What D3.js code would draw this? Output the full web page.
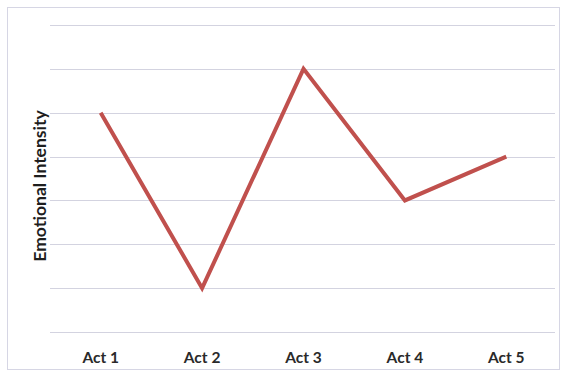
<!DOCTYPE html>
<html>
<head>
<meta charset="utf-8">
<script src="https://cdn.jsdelivr.net/npm/d3@7"></script>
<style>
html,body{margin:0;padding:0;background:#fff;}
svg{display:block;}
</style>
</head>
<body>
<svg id="chart" width="564" height="372"></svg>
<script>
const categories = ["Act 1", "Act 2", "Act 3", "Act 4", "Act 5"];
const intensity = [5, 1, 6, 3, 4];
const yTicks = [0, 1, 2, 3, 4, 5, 6, 7];
const yLabel = "Emotional Intensity";

const svg = d3.select("#chart");
const W = 564, H = 372;
const m = {left: 50, right: 7, top: 25, bottom: 40};

svg.append("rect")
  .attr("x", 7.5).attr("y", 7.5)
  .attr("width", 552).attr("height", 362)
  .attr("fill", "#fff")
  .attr("stroke", "#d6d6e4").attr("stroke-width", 1);

const x = d3.scaleBand().domain(categories).range([m.left, W - m.right]);
const y = d3.scaleLinear().domain([0, 7]).range([H - m.bottom, m.top]);

svg.append("g").selectAll("line").data(yTicks).join("line")
  .attr("x1", m.left).attr("x2", W - 9)
  .attr("y1", d => Math.round(y(d)) + 0.5).attr("y2", d => Math.round(y(d)) + 0.5)
  .attr("stroke", "#d3d3e0").attr("stroke-width", 1);

const xAxis = d3.axisBottom(x).tickSize(0).tickPadding(0);
const gx = svg.append("g").attr("transform", `translate(0,${H - 9})`).call(xAxis);
gx.select(".domain").remove();
gx.selectAll("text")
  .attr("dy", 0).attr("y", 0)
  .attr("font-family", "Lato, 'Open Sans', sans-serif")
  .attr("font-weight", "bold").attr("font-size", 15.5)
  .attr("fill", "#2a2a2a");

svg.append("text")
  .attr("transform", `translate(46,${186}) rotate(-90)`)
  .attr("text-anchor", "middle")
  .attr("font-family", "Lato, 'Open Sans', sans-serif")
  .attr("font-weight", "bold").attr("font-size", 17.5)
  .attr("fill", "#1e1e1e")
  .text(yLabel);

const line = d3.line()
  .x((d, i) => x(categories[i]) + x.bandwidth() / 2)
  .y(d => y(d));

svg.append("path")
  .datum(intensity)
  .attr("d", line)
  .attr("fill", "none")
  .attr("stroke", "#c0504d")
  .attr("stroke-width", 4)
  .attr("stroke-linejoin", "miter");
</script>
</body>
</html>
